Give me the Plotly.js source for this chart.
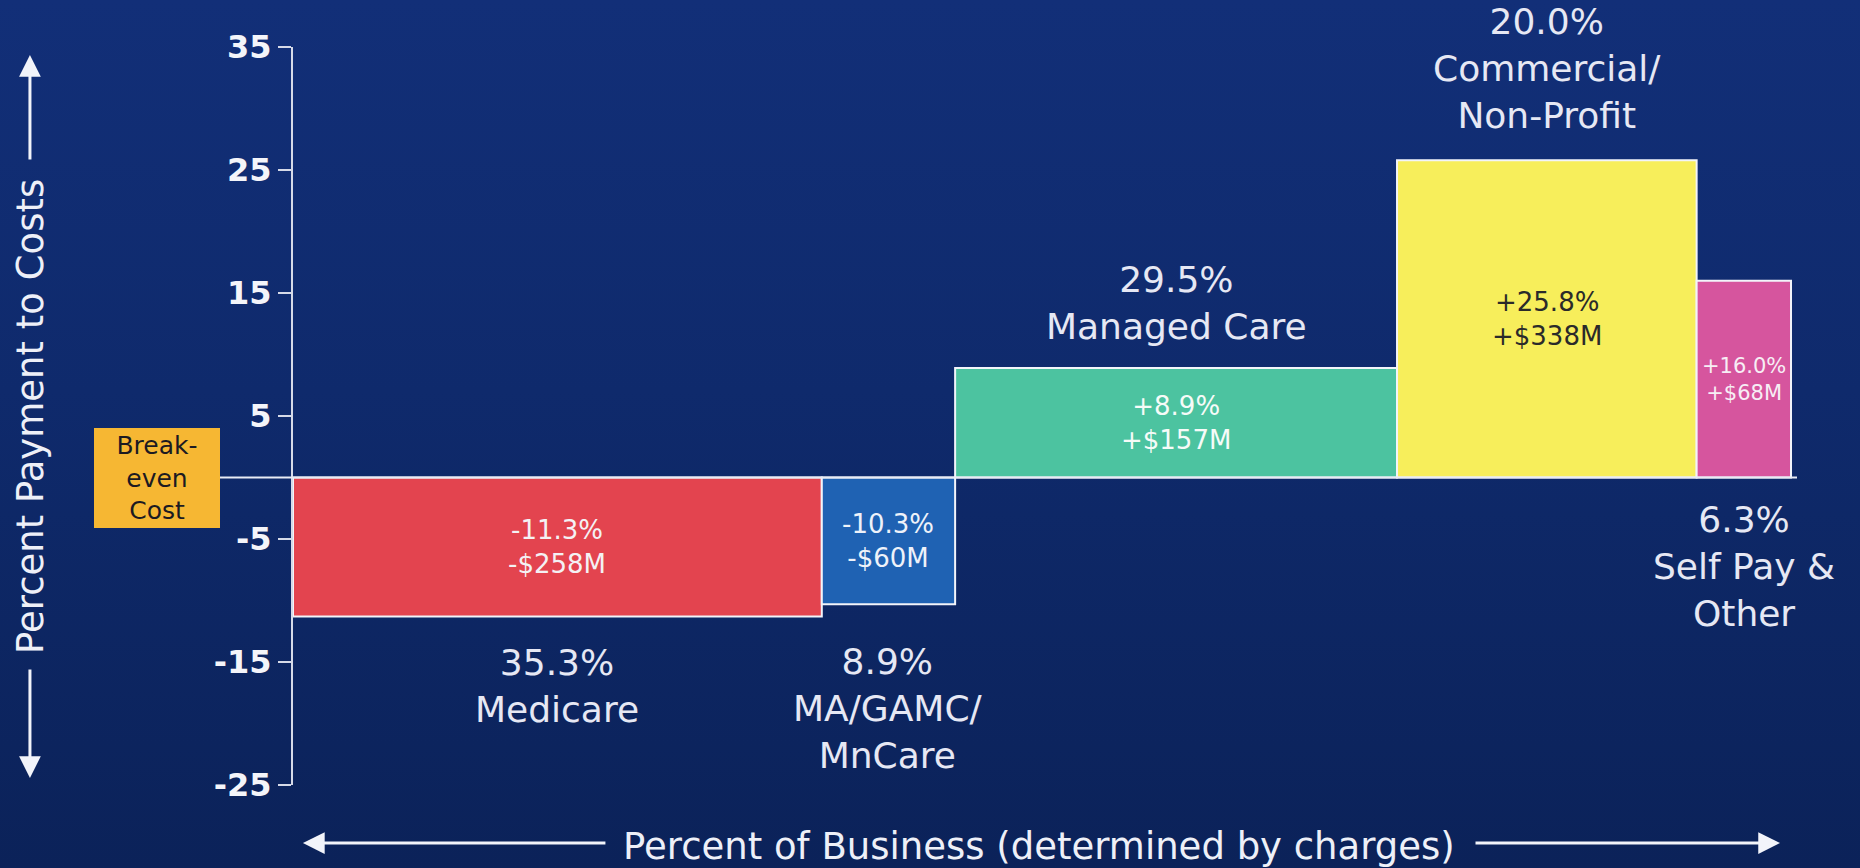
<!DOCTYPE html>
<html>
<head>
<meta charset="utf-8">
<script src="https://cdn.plot.ly/plotly-3.0.1.min.js"></script>
<style>
  html, body { margin: 0; padding: 0; }
  body {
    width: 1860px; height: 868px; overflow: hidden;
    background: linear-gradient(180deg, #122f78 0%, #0f2a6c 45%, #0b2259 100%);
  }
  #chart { width: 1860px; height: 868px; }
</style>
</head>
<body>
<div id="chart"></div>
<script>
// ---- data ----
const categories     = ['Medicare', 'MA/GAMC/<br>MnCare', 'Managed Care', 'Commercial/<br>Non-Profit', 'Self Pay &<br>Other'];
const shareOfBusiness = [35.3, 8.9, 29.5, 20.0, 6.3];          // % of business (bar widths)
const paymentToCost   = [-11.3, -10.3, 8.9, 25.8, 16.0];       // % payment to costs (bar heights)
const dollarImpact    = ['-$258M', '-$60M', '+$157M', '+$338M', '+$68M'];
const yTickVals       = [-25, -15, -5, 5, 15, 25, 35];

// ---- styles ----
const barColors   = ['#e3444f', '#1f62b3', '#4cc3a0', '#f7ee5b', '#d6559e'];
const innerColors = ['#f4f1f4', '#eef2fa', '#f6fbf8', '#2a2a2a', '#f7eef5'];
const innerSizes  = [26, 26, 26, 26, 21];
// where the outer (category) label sits: 'end' = beyond bar end, 'below0' = under the zero line
const outerMode   = ['end', 'end', 'end', 'end', 'below0'];
const outerShift  = [-70, -104, 65, 92, -89];

// derived geometry through the axes
const lefts = [];
let acc = 0;
shareOfBusiness.forEach(w => { lefts.push(acc); acc += w; });
const centers = shareOfBusiness.map((w, i) => lefts[i] + w / 2);

const fmtPct = v => (v > 0 ? '+' : '') + v.toFixed(1) + '%';

const bar = {
  type: 'bar',
  x: centers,
  y: paymentToCost,
  width: shareOfBusiness,
  base: 0,
  marker: { color: barColors, line: { color: '#f2f4fa', width: 2 } },
  hoverinfo: 'skip',
  showlegend: false
};

const annotations = [];
const txt = '#e6e8f4';

// inner labels
paymentToCost.forEach((v, i) => {
  annotations.push({
    x: centers[i], y: v / 2, xref: 'x', yref: 'y',
    text: fmtPct(v) + '<br>' + dollarImpact[i],
    showarrow: false,
    font: { family: 'DejaVu Sans, Verdana, sans-serif', size: innerSizes[i], color: innerColors[i] },
    xanchor: 'center', yanchor: 'middle'
  });
});

// outer labels
shareOfBusiness.forEach((s, i) => {
  annotations.push({
    x: centers[i], y: outerMode[i] === 'end' ? paymentToCost[i] : 0,
    xref: 'x', yref: 'y',
    text: s.toFixed(1) + '%<br>' + categories[i],
    showarrow: false,
    font: { family: 'DejaVu Sans, Verdana, sans-serif', size: 36, color: txt },
    xanchor: 'center', yanchor: 'middle',
    yshift: outerShift[i]
  });
});

// Break-even box
annotations.push({
  x: -0.0904, y: 0, xref: 'paper', yref: 'y',
  text: 'Break-<br>even<br>Cost',
  showarrow: false,
  font: { family: 'DejaVu Sans, Verdana, sans-serif', size: 25, color: '#1c1a22' },
  bgcolor: '#f6b733', borderpad: 0, borderwidth: 0,
  width: 126, height: 100,
  xanchor: 'center', yanchor: 'middle'
});

// Y axis title with arrows
annotations.push({
  x: -0.1749, y: 0.5, xref: 'paper', yref: 'paper',
  text: 'Percent Payment to Costs', textangle: -90, showarrow: false,
  font: { family: 'DejaVu Sans, Verdana, sans-serif', size: 37, color: '#eef0f8' },
  xanchor: 'center', yanchor: 'middle'
});
const arrowStyle = { showarrow: true, arrowhead: 2, arrowsize: 1.45, arrowwidth: 3, arrowcolor: '#f2f4fa', text: '', standoff: 0, startstandoff: 0 };
annotations.push(Object.assign({ x: -0.1749, y: 0.989, xref: 'paper', yref: 'paper', ax: 0, ay: 106 }, arrowStyle));
annotations.push(Object.assign({ x: -0.1749, y: 0.0095, xref: 'paper', yref: 'paper', ax: 0, ay: -110 }, arrowStyle));

// X axis title with arrows
annotations.push({
  x: 0.496, y: -0.0827, xref: 'paper', yref: 'paper',
  text: 'Percent of Business (determined by charges)', showarrow: false,
  font: { family: 'DejaVu Sans, Verdana, sans-serif', size: 37, color: '#eef0f8' },
  xanchor: 'center', yanchor: 'middle'
});
annotations.push(Object.assign({ x: 0.0066, y: -0.0786, xref: 'paper', yref: 'paper', ax: 304, ay: 0 }, arrowStyle));
annotations.push(Object.assign({ x: 0.9887, y: -0.0786, xref: 'paper', yref: 'paper', ax: -306, ay: 0 }, arrowStyle));

const layout = {
  width: 1860, height: 868,
  margin: { l: 293, r: 63, t: 47, b: 83, pad: 0 },
  paper_bgcolor: 'rgba(0,0,0,0)',
  plot_bgcolor: 'rgba(0,0,0,0)',
  showlegend: false,
  bargap: 0,
  xaxis: {
    range: [0, 100.4], visible: false, fixedrange: true
  },
  yaxis: {
    range: [-25, 35],
    tickmode: 'array', tickvals: yTickVals, ticktext: yTickVals.map(String),
    ticks: 'outside', ticklen: 13, tickwidth: 2, tickcolor: '#d6dae8',
    showline: true, linecolor: '#d6dae8', linewidth: 2,
    showgrid: false, zeroline: false,
    tickfont: { family: 'DejaVu Sans, Liberation Sans, Arial, sans-serif', size: 32, color: '#f4f5fa', weight: 'bold' },
    fixedrange: true
  },
  shapes: [{
    type: 'line', xref: 'paper', yref: 'y',
    x0: -0.0492, x1: 1, y0: 0, y1: 0,
    line: { color: '#e8ebf5', width: 2 }, layer: 'above'
  }],
  annotations: annotations
};

Plotly.newPlot('chart', [bar], layout, { displayModeBar: false, staticPlot: true });
</script>
</body>
</html>
